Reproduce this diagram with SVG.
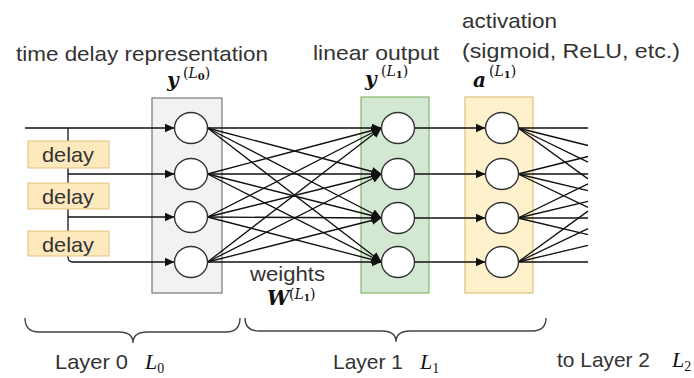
<svg xmlns="http://www.w3.org/2000/svg" width="694" height="378" viewBox="0 0 694 378">
<defs>
<style>
.t{font-family:"Liberation Sans",Arial,sans-serif;font-size:21px;fill:#333}
.mb{font-family:"DejaVu Serif",serif;font-size:20px;font-weight:bold;font-style:italic;fill:#111}
.sup{font-family:"DejaVu Serif",serif;font-size:14px;fill:#111}
.mi{font-family:"Liberation Serif",serif;font-size:22px;font-style:italic;fill:#111}
.ln{stroke:#111;stroke-width:1.3;fill:none}
.arr{stroke:#111;stroke-width:1.3;fill:none;marker-end:url(#ah)}
.nd{fill:#fff;stroke:#333;stroke-width:1.4}
.delay{fill:#fde9bd;stroke:#e2c27a;stroke-width:1}
.brace{fill:none;stroke:#444;stroke-width:1.4}
</style>
<marker id="ah" markerUnits="userSpaceOnUse" markerWidth="11" markerHeight="9" refX="10" refY="4.5" orient="auto">
<path d="M0,0 L10,4.5 L0,9 z" fill="#111"/>
</marker>
</defs>
<rect width="694" height="378" fill="#fff"/>

<g id="layer-boxes">
<rect id="box-L0" x="152" y="98" width="70" height="195" fill="#f2f2f2" stroke="#777" stroke-width="1.2"/>
<rect id="box-lin" x="361" y="97" width="68" height="196" fill="#d3e8d2" stroke="#88b86c" stroke-width="1.2"/>
<rect id="box-act" x="465" y="97" width="68" height="196" fill="#fff1cc" stroke="#dcc27a" stroke-width="1.2"/>
</g>

<g id="connectors">
<path class="ln" d="M68,128 V257 Q68,262 73,262"/>
<line class="arr" x1="25" y1="128" x2="174.5" y2="128"/>
<line class="arr" x1="68" y1="174" x2="174.5" y2="174"/>
<line class="arr" x1="68" y1="217" x2="174.5" y2="217"/>
<line class="arr" x1="73" y1="262" x2="174.5" y2="262"/>
<line class="arr" x1="207.5" y1="128" x2="381.5" y2="128"/>
<line class="arr" x1="207.5" y1="128" x2="381.5" y2="174"/>
<line class="arr" x1="207.5" y1="128" x2="381.5" y2="218"/>
<line class="arr" x1="207.5" y1="128" x2="381.5" y2="262"/>
<line class="arr" x1="207.5" y1="174" x2="381.5" y2="128"/>
<line class="arr" x1="207.5" y1="174" x2="381.5" y2="174"/>
<line class="arr" x1="207.5" y1="174" x2="381.5" y2="218"/>
<line class="arr" x1="207.5" y1="174" x2="381.5" y2="262"/>
<line class="arr" x1="207.5" y1="217" x2="381.5" y2="128"/>
<line class="arr" x1="207.5" y1="217" x2="381.5" y2="174"/>
<line class="arr" x1="207.5" y1="217" x2="381.5" y2="218"/>
<line class="arr" x1="207.5" y1="217" x2="381.5" y2="262"/>
<line class="arr" x1="207.5" y1="262" x2="381.5" y2="128"/>
<line class="arr" x1="207.5" y1="262" x2="381.5" y2="174"/>
<line class="arr" x1="207.5" y1="262" x2="381.5" y2="218"/>
<line class="arr" x1="207.5" y1="262" x2="381.5" y2="262"/>
<line class="arr" x1="414.5" y1="128" x2="485.5" y2="128"/>
<line class="arr" x1="414.5" y1="174" x2="485.5" y2="174"/>
<line class="arr" x1="414.5" y1="218" x2="485.5" y2="218"/>
<line class="arr" x1="414.5" y1="262" x2="485.5" y2="262"/>
<line class="ln" x1="518" y1="128" x2="588" y2="128"/>
<line class="ln" x1="518" y1="128" x2="588" y2="145.5"/>
<line class="ln" x1="518" y1="128" x2="588" y2="162.2"/>
<line class="ln" x1="518" y1="128" x2="588" y2="178.9"/>
<line class="ln" x1="518" y1="174" x2="588" y2="156.5"/>
<line class="ln" x1="518" y1="174" x2="588" y2="174"/>
<line class="ln" x1="518" y1="174" x2="588" y2="190.7"/>
<line class="ln" x1="518" y1="174" x2="588" y2="207.4"/>
<line class="ln" x1="518" y1="218" x2="588" y2="183.8"/>
<line class="ln" x1="518" y1="218" x2="588" y2="201.3"/>
<line class="ln" x1="518" y1="218" x2="588" y2="218"/>
<line class="ln" x1="518" y1="218" x2="588" y2="234.7"/>
<line class="ln" x1="518" y1="262" x2="588" y2="211.1"/>
<line class="ln" x1="518" y1="262" x2="588" y2="228.6"/>
<line class="ln" x1="518" y1="262" x2="588" y2="245.3"/>
<line class="ln" x1="518" y1="262" x2="588" y2="262"/>
</g>

<g id="delay1"><rect class="delay" x="28" y="141" width="81" height="27"/><text class="t" x="42" y="162" textLength="52" lengthAdjust="spacingAndGlyphs">delay</text></g>
<g id="delay2"><rect class="delay" x="28" y="183" width="81" height="26"/><text class="t" x="42" y="204" textLength="52" lengthAdjust="spacingAndGlyphs">delay</text></g>
<g id="delay3"><rect class="delay" x="28" y="231" width="81" height="25"/><text class="t" x="42" y="252" textLength="52" lengthAdjust="spacingAndGlyphs">delay</text></g>

<g id="L0-nodes">
<ellipse id="n0-1" class="nd" cx="191" cy="128" rx="16.5" ry="15.5"/>
<ellipse id="n0-2" class="nd" cx="191" cy="174" rx="16.5" ry="15.5"/>
<ellipse id="n0-3" class="nd" cx="191" cy="217" rx="16.5" ry="15.5"/>
<ellipse id="n0-4" class="nd" cx="191" cy="262" rx="16.5" ry="15.5"/>
</g>
<g id="lin-nodes">
<ellipse id="n1-1" class="nd" cx="398" cy="128" rx="16.5" ry="15.5"/>
<ellipse id="n1-2" class="nd" cx="398" cy="174" rx="16.5" ry="15.5"/>
<ellipse id="n1-3" class="nd" cx="398" cy="218" rx="16.5" ry="15.5"/>
<ellipse id="n1-4" class="nd" cx="398" cy="262" rx="16.5" ry="15.5"/>
</g>
<g id="act-nodes">
<ellipse id="a1-1" class="nd" cx="502" cy="128" rx="16.5" ry="15.5"/>
<ellipse id="a1-2" class="nd" cx="502" cy="174" rx="16.5" ry="15.5"/>
<ellipse id="a1-3" class="nd" cx="502" cy="218" rx="16.5" ry="15.5"/>
<ellipse id="a1-4" class="nd" cx="502" cy="262" rx="16.5" ry="15.5"/>
</g>

<g id="labels">
<text class="t" x="16" y="61" textLength="252" lengthAdjust="spacingAndGlyphs">time delay representation</text>
<text class="t" x="313" y="60" textLength="126" lengthAdjust="spacingAndGlyphs">linear output</text>
<text class="t" x="462" y="28" textLength="95" lengthAdjust="spacingAndGlyphs">activation</text>
<text class="t" x="462" y="58" textLength="218" lengthAdjust="spacingAndGlyphs">(sigmoid, ReLU, etc.)</text>
<text class="t" x="250" y="281" textLength="75" lengthAdjust="spacingAndGlyphs">weights</text>

<text class="mb" x="167" y="87">y</text>
<text class="sup" x="183" y="78">(<tspan font-style="italic">L</tspan><tspan font-size="10" font-weight="bold" dy="2">0</tspan><tspan dy="-2">)</tspan></text>
<text class="mb" x="365" y="86">y</text>
<text class="sup" x="381" y="76">(<tspan font-style="italic">L</tspan><tspan font-size="10" font-weight="bold" dy="2">1</tspan><tspan dy="-2">)</tspan></text>
<text class="mb" x="473" y="87">a</text>
<text class="sup" x="489" y="76">(<tspan font-style="italic">L</tspan><tspan font-size="10" font-weight="bold" dy="2">1</tspan><tspan dy="-2">)</tspan></text>
<text class="mb" x="267" y="305" font-size="17">W</text>
<text class="sup" x="289" y="299" font-size="13">(<tspan font-style="italic">L</tspan><tspan font-size="9" font-weight="bold" dy="2">1</tspan><tspan dy="-2">)</tspan></text>

<text class="t" x="55" y="369" textLength="73" lengthAdjust="spacingAndGlyphs">Layer 0</text>
<text class="mi" x="145" y="369">L<tspan font-size="14" font-style="normal" dy="4">0</tspan></text>
<text class="t" x="333" y="369" textLength="70" lengthAdjust="spacingAndGlyphs">Layer 1</text>
<text class="mi" x="420" y="369">L<tspan font-size="14" font-style="normal" dy="4">1</tspan></text>
<text class="t" x="557" y="367" textLength="93" lengthAdjust="spacingAndGlyphs">to Layer 2</text>
<text class="mi" x="672" y="367">L<tspan font-size="14" font-style="normal" dy="4">2</tspan></text>
</g>

<g id="braces">
<path class="brace" d="M25,318 Q25,332 39,332 L119,332 Q133,332 133,343 Q133,332 147,332 L226,332 Q240,332 240,318"/>
<path class="brace" d="M245,318 Q245,331 259,331 L382,331 Q396,331 396,342 Q396,331 410,331 L532,331 Q546,331 546,318"/>
</g>
</svg>
